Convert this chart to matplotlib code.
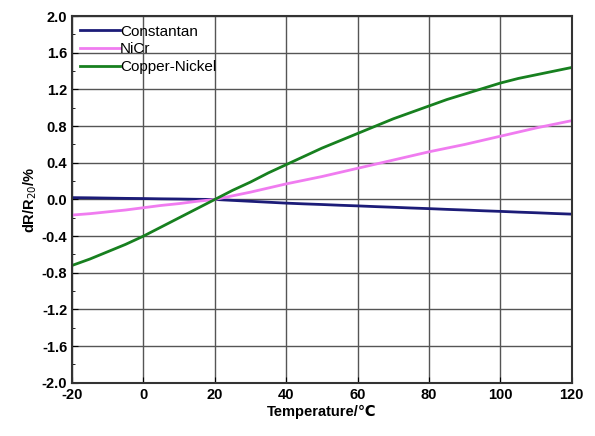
import matplotlib
matplotlib.use("Agg")
import matplotlib.pyplot as plt
from matplotlib.ticker import MultipleLocator, FormatStrFormatter

plt.rcParams['font.family'] = ['Liberation Sans', 'DejaVu Sans']
plt.rcParams['axes.unicode_minus'] = False

temps = [-20, -15, -10, -5, 0, 5, 10, 15, 20, 25, 30, 35, 40, 45, 50, 55, 60,
         65, 70, 75, 80, 85, 90, 95, 100, 105, 110, 115, 120]
constantan = [0.02, 0.018, 0.015, 0.012, 0.01, 0.007, 0.005, 0.002, 0.0, -0.01, -0.02,
              -0.03, -0.04, -0.048, -0.055, -0.063, -0.07, -0.078, -0.085, -0.093, -0.10,
              -0.108, -0.115, -0.123, -0.13, -0.138, -0.145, -0.153, -0.16]
nicr = [-0.17, -0.155, -0.135, -0.115, -0.09, -0.065, -0.045, -0.02, 0.0, 0.04, 0.08,
        0.125, 0.17, 0.21, 0.25, 0.295, 0.34, 0.385, 0.43, 0.475, 0.52, 0.56, 0.60,
        0.645, 0.69, 0.735, 0.78, 0.82, 0.86]
cuni = [-0.72, -0.65, -0.57, -0.49, -0.40, -0.30, -0.20, -0.10, 0.0, 0.10, 0.19, 0.29,
        0.38, 0.47, 0.56, 0.64, 0.72, 0.80, 0.88, 0.95, 1.02, 1.09, 1.15, 1.21, 1.27,
        1.32, 1.36, 1.40, 1.44]
series_names = ['Constantan', 'NiCr', 'Copper-Nickel']
colors = ['#1c1c78', '#f07cf0', '#17801f']

fig = plt.figure(figsize=(5.95, 4.36), dpi=100)
ax = fig.add_axes([0.121, 0.122, 0.840, 0.841])

for vals, name, c in zip([constantan, nicr, cuni], series_names, colors):
    ax.plot(temps, vals, color=c, lw=2.0, label=name)

ax.set_xlim(-20, 120)
ax.set_ylim(-2.0, 2.0)
ax.xaxis.set_major_locator(MultipleLocator(20))
ax.yaxis.set_major_locator(MultipleLocator(0.4))
ax.yaxis.set_minor_locator(MultipleLocator(0.2))
ax.yaxis.set_major_formatter(FormatStrFormatter('%.1f'))
ax.grid(True, which='major', color='#555555', lw=1.0)
ax.set_axisbelow(True)
ax.tick_params(which='both', direction='in', labelsize=10.5)
ax.tick_params(which='major', length=4)
ax.tick_params(which='minor', length=2.5)
for lab in ax.get_xticklabels() + ax.get_yticklabels():
    lab.set_fontweight('bold')
for sp in ax.spines.values():
    sp.set_linewidth(1.5)
    sp.set_color('#333333')

ax.set_xlabel('Temperature/℃', fontsize=10.5, fontweight='bold', labelpad=2)
ax.set_ylabel('dR/R$_{20}$/%', fontsize=10.5, fontweight='bold', labelpad=2)

ax.legend(loc='upper left', frameon=False, fontsize=11, handlelength=2.6,
          handletextpad=0.0, borderaxespad=0.15, labelspacing=0.25,
          bbox_to_anchor=(0.0, 1.0))

fig.savefig('out.png', dpi=100)
